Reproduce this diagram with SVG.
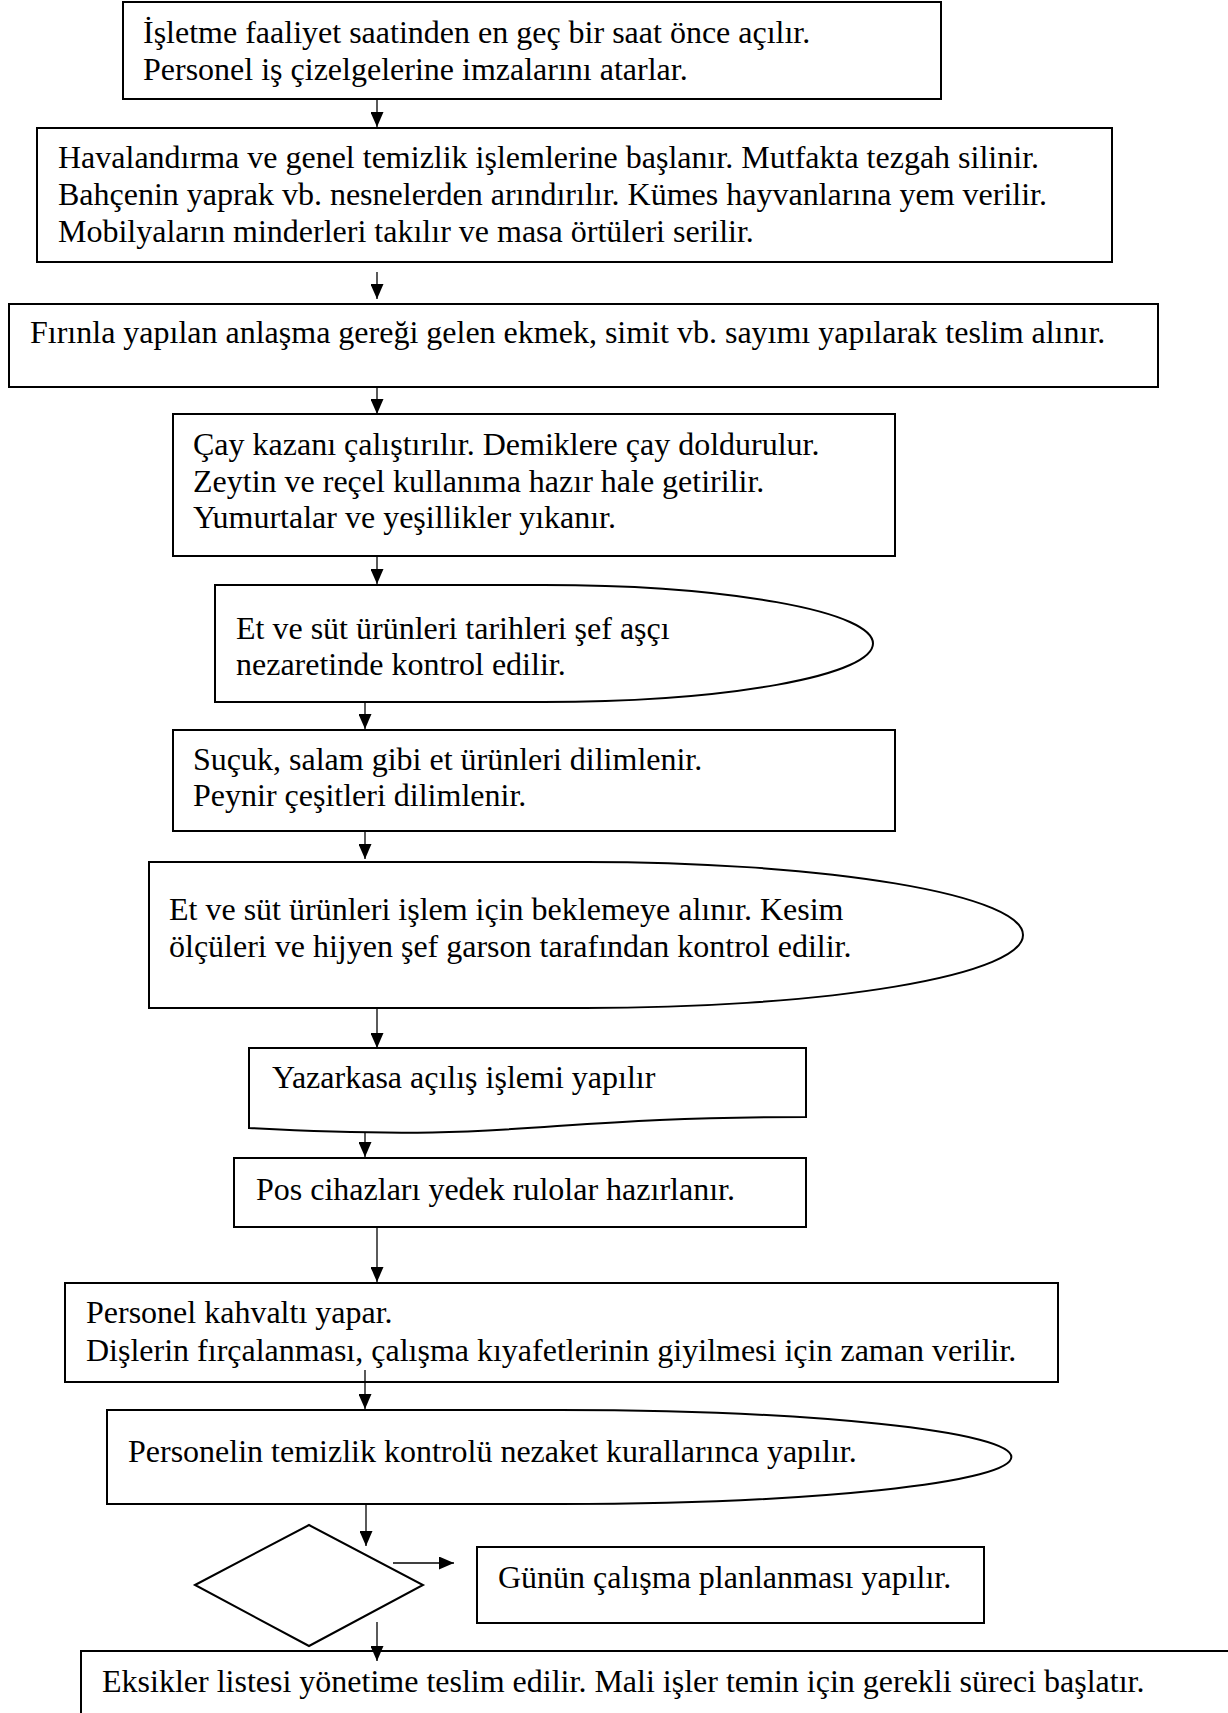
<svg xmlns="http://www.w3.org/2000/svg" width="1228" height="1713" viewBox="0 0 1228 1713">
<style>
.n{fill:#fff;stroke:#000;stroke-width:2}
.t{font-family:"Liberation Serif","Times New Roman",serif;font-size:32px;fill:#000}
.c{stroke:#000;stroke-width:1.3;fill:none;marker-end:url(#ah)}
</style>
<defs>
<marker id="ah" viewBox="0 0 15 13" refX="15" refY="6.5" markerWidth="15" markerHeight="13" markerUnits="userSpaceOnUse" orient="auto">
<path d="M0,0 L15,6.5 L0,13 Z" fill="#000"/>
</marker>
</defs>
<rect width="1228" height="1713" fill="#fff"/>
<g id="n1"><rect class="n" x="123" y="2" width="818" height="97"/>
<text class="t" x="143" y="43">İşletme faaliyet saatinden en geç bir saat önce açılır.</text>
<text class="t" x="143" y="80">Personel iş çizelgelerine imzalarını atarlar.</text></g>
<g id="n2"><rect class="n" x="37" y="128" width="1075" height="134"/>
<text class="t" x="58" y="168">Havalandırma ve genel temizlik işlemlerine başlanır. Mutfakta tezgah silinir.</text>
<text class="t" x="58" y="205">Bahçenin yaprak vb. nesnelerden arındırılır. Kümes hayvanlarına yem verilir.</text>
<text class="t" x="58" y="242">Mobilyaların minderleri takılır ve masa örtüleri serilir.</text></g>
<g id="n3"><rect class="n" x="9" y="304" width="1149" height="83"/>
<text class="t" x="30" y="343">Fırınla yapılan anlaşma gereği gelen ekmek, simit vb. sayımı yapılarak teslim alınır.</text></g>
<g id="n4"><rect class="n" x="173" y="414" width="722" height="142"/>
<text class="t" x="193" y="455">Çay kazanı çalıştırılır. Demiklere çay doldurulur.</text>
<text class="t" x="193" y="492">Zeytin ve reçel kullanıma hazır hale getirilir.</text>
<text class="t" x="193" y="528">Yumurtalar ve yeşillikler yıkanır.</text></g>
<g id="n5"><path class="n" d="M215,585 H544 A329,58.5 0 0 1 544,702 H215 Z"/>
<text class="t" x="236" y="639">Et ve süt ürünleri tarihleri şef aşçı</text>
<text class="t" x="236" y="675">nezaretinde kontrol edilir.</text></g>
<g id="n6"><rect class="n" x="173" y="730" width="722" height="101"/>
<text class="t" x="193" y="770">Suçuk, salam gibi et ürünleri dilimlenir.</text>
<text class="t" x="193" y="806">Peynir çeşitleri dilimlenir.</text></g>
<g id="n7"><path class="n" d="M149,862 H586 A437,73 0 0 1 586,1008 H149 Z"/>
<text class="t" x="169" y="920">Et ve süt ürünleri işlem için beklemeye alınır. Kesim</text>
<text class="t" x="169" y="957">ölçüleri ve hijyen şef garson tarafından kontrol edilir.</text></g>
<g id="n8"><path class="n" d="M249,1048 H806 V1117 C527.5,1117 527.5,1143 249,1128 Z"/>
<text class="t" x="272" y="1088">Yazarkasa açılış işlemi yapılır</text></g>
<g id="n9"><rect class="n" x="234" y="1158" width="572" height="69"/>
<text class="t" x="256" y="1200">Pos cihazları yedek rulolar hazırlanır.</text></g>
<g id="n10"><rect class="n" x="65" y="1283" width="993" height="99"/>
<text class="t" x="86" y="1323">Personel kahvaltı yapar.</text>
<text class="t" x="86" y="1361">Dişlerin fırçalanması, çalışma kıyafetlerinin giyilmesi için zaman verilir.</text></g>
<g id="n11"><path class="n" d="M107,1410 H559.5 A452.5,47 0 0 1 559.5,1504 H107 Z"/>
<text class="t" x="128" y="1462">Personelin temizlik kontrolü nezaket kurallarınca yapılır.</text></g>
<g id="n12"><path class="n" d="M195,1585 L309,1525 L423,1585 L309,1646 Z"/></g>
<g id="n13"><rect class="n" x="477" y="1547" width="507" height="76"/>
<text class="t" x="498" y="1588">Günün çalışma planlanması yapılır.</text></g>
<g id="n14"><rect class="n" x="81" y="1651" width="1200" height="100"/>
<text class="t" x="102" y="1692">Eksikler listesi yönetime teslim edilir. Mali işler temin için gerekli süreci başlatır.</text></g>
<g id="connectors">
<line class="c" x1="377" y1="99" x2="377" y2="127"/>
<line class="c" x1="377" y1="272" x2="377" y2="299"/>
<line class="c" x1="377" y1="387" x2="377" y2="414"/>
<line class="c" x1="377" y1="556" x2="377" y2="584"/>
<line class="c" x1="365" y1="702" x2="365" y2="729"/>
<line class="c" x1="365" y1="831" x2="365" y2="859"/>
<line class="c" x1="377" y1="1008" x2="377" y2="1048"/>
<line class="c" x1="365" y1="1132" x2="365" y2="1157"/>
<line class="c" x1="377" y1="1227" x2="377" y2="1282"/>
<line class="c" x1="365" y1="1370" x2="365" y2="1409"/>
<line class="c" x1="366" y1="1504" x2="366" y2="1546"/>
<line class="c" x1="393" y1="1563" x2="454" y2="1563"/>
<line class="c" x1="377" y1="1622" x2="377" y2="1661"/>
</g>
</svg>
